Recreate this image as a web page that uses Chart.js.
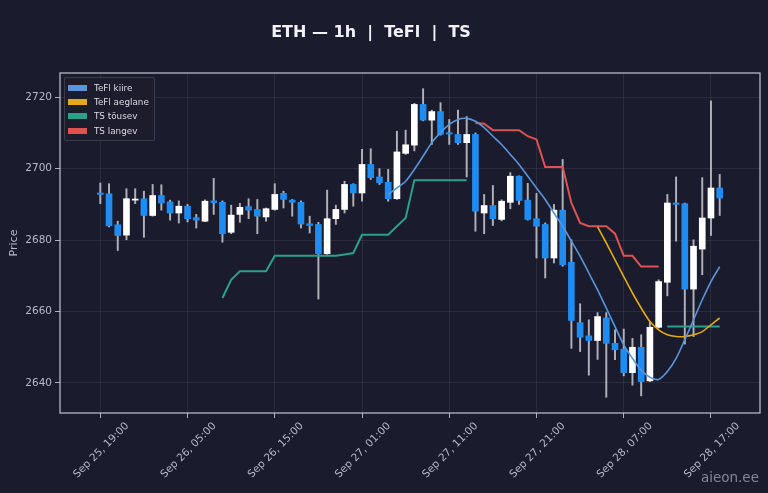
<!DOCTYPE html>
<html>
<head>
<meta charset="utf-8">
<script src="https://cdn.jsdelivr.net/npm/chart.js@4.4.1/dist/chart.umd.min.js"></script>
<style>
  html, body { margin: 0; padding: 0; background: #1b1b2e; }
  #wrap { position: relative; width: 768px; height: 493px; }
  #legend {
    position: absolute; left: 64px; top: 77px; padding: 3px 5px 2px 0;
    background: rgba(28, 28, 46, 0.92); border: 1px solid rgba(255, 255, 255, 0.14); border-radius: 2px;
    font: 8.8px 'DejaVu Sans', sans-serif; color: #dcdce4; white-space: nowrap;
  }
  #legend .row { display: flex; align-items: center; height: 14.2px; }
  #legend .sw { width: 19px; height: 6px; margin: 0 7px 0 3px; }
  #mark {
    position: absolute; right: 9px; top: 469px;
    font: 13.5px 'DejaVu Sans', sans-serif; color: rgba(170, 170, 185, 0.75);
  }
</style>
</head>
<body>
<div id="wrap">
  <canvas id="chart"></canvas>
  <div id="legend"></div>
  <div id="mark">aieon.ee</div>
</div>
<script>
// 1h candles, Sep 25 19:00 -> Sep 28 18:00 (index = hours since first candle)
const opens = [2693.2, 2693.0, 2684.3, 2681.4, 2691.2, 2691.6, 2686.9, 2692.5, 2690.7, 2687.6, 2689.5, 2686.3,
  2685.3, 2691.0, 2690.6, 2682.2, 2687.2, 2689.4, 2688.6, 2686.5, 2688.6, 2693.1, 2691.2, 2690.6,
  2684.6, 2684.4, 2676.2, 2686.0, 2688.6, 2695.6, 2693.2, 2701.2, 2697.7, 2696.2, 2691.6, 2704.3,
  2706.6, 2718.0, 2713.6, 2716.0, 2710.1, 2709.6, 2707.3, 2709.6, 2687.6, 2689.7, 2685.8, 2690.6,
  2697.9, 2691.2, 2686.0, 2684.4, 2675.0, 2688.4, 2673.8, 2656.9, 2653.2, 2651.9, 2658.2, 2651.1,
  2649.5, 2642.9, 2650.0, 2640.6, 2655.6, 2668.2, 2690.4, 2690.2, 2666.3, 2677.5, 2686.2, 2694.6];
const highs = [2696.0, 2695.8, 2685.3, 2694.4, 2694.4, 2693.7, 2695.6, 2695.5, 2691.2, 2691.0, 2690.0, 2687.2,
  2691.3, 2697.3, 2691.0, 2689.8, 2690.3, 2691.6, 2691.4, 2689.0, 2695.8, 2693.7, 2691.4, 2691.0,
  2686.7, 2685.0, 2694.0, 2689.8, 2696.5, 2695.8, 2705.4, 2705.6, 2700.0, 2699.8, 2710.5, 2710.8,
  2718.3, 2722.4, 2716.4, 2718.5, 2713.8, 2716.4, 2714.6, 2710.0, 2692.8, 2695.3, 2691.3, 2698.9,
  2698.0, 2695.9, 2693.1, 2684.8, 2690.0, 2702.6, 2680.1, 2662.2, 2657.7, 2659.7, 2659.7, 2654.9,
  2655.1, 2652.5, 2653.5, 2657.2, 2668.9, 2692.8, 2697.7, 2690.4, 2680.1, 2697.5, 2719.0, 2698.4];
const lows = [2690.2, 2683.7, 2677.1, 2680.1, 2690.2, 2680.8, 2686.7, 2688.4, 2685.6, 2684.8, 2685.1, 2683.4,
  2685.2, 2687.2, 2679.4, 2681.8, 2685.0, 2686.0, 2681.8, 2685.3, 2688.4, 2689.0, 2686.7, 2683.4,
  2682.0, 2663.5, 2676.0, 2684.4, 2687.6, 2689.5, 2690.9, 2697.0, 2695.6, 2690.9, 2691.4, 2704.0,
  2705.0, 2713.4, 2706.8, 2709.4, 2706.8, 2706.8, 2697.7, 2682.5, 2681.8, 2684.1, 2685.4, 2688.8,
  2690.0, 2685.6, 2675.0, 2669.4, 2673.6, 2672.7, 2649.7, 2648.8, 2642.2, 2646.6, 2636.0, 2646.5,
  2642.0, 2639.4, 2636.4, 2640.4, 2655.4, 2664.4, 2679.7, 2650.9, 2653.0, 2670.3, 2681.3, 2686.9];
const closes = [2692.8, 2684.0, 2681.3, 2691.6, 2691.5, 2686.9, 2692.5, 2690.4, 2687.6, 2689.5, 2686.0, 2685.6,
  2690.9, 2690.5, 2681.8, 2687.0, 2689.2, 2688.4, 2686.7, 2688.8, 2692.8, 2691.4, 2690.6, 2684.5,
  2684.1, 2676.2, 2686.0, 2688.6, 2695.6, 2693.2, 2701.2, 2697.5, 2696.1, 2691.6, 2704.7, 2706.7,
  2718.0, 2713.6, 2716.0, 2709.6, 2709.7, 2707.3, 2709.6, 2688.1, 2689.7, 2686.0, 2690.9, 2697.9,
  2691.1, 2685.8, 2683.9, 2675.0, 2688.4, 2673.1, 2657.5, 2652.8, 2651.9, 2658.6, 2651.1, 2649.3,
  2642.9, 2650.0, 2640.4, 2655.6, 2668.4, 2690.4, 2690.0, 2666.3, 2678.3, 2686.2, 2694.6, 2691.8];

const teflFast = [null, null, null, null, null, null, null, null, null, null, null, null,
  null, null, null, null, null, null, null, null, null, null, null, null,
  null, null, null, null, null, null, null, null, null, 2692.8, 2694.6, 2696.5,
  2699.8, 2703.5, 2707.3, 2710.1, 2712.4, 2713.8, 2714.1, 2713.3, 2711.5, 2709.1, 2706.8, 2704.0,
  2701.2, 2697.9, 2694.6, 2691.4, 2687.6, 2683.9, 2679.7, 2675.5, 2670.8, 2666.1, 2661.0, 2655.8,
  2650.7, 2646.9, 2643.6, 2641.6, 2641.0, 2643.2, 2646.9, 2652.1, 2657.7, 2663.3, 2668.4, 2672.6];
const teflSlow = [null, null, null, null, null, null, null, null, null, null, null, null,
  null, null, null, null, null, null, null, null, null, null, null, null,
  null, null, null, null, null, null, null, null, null, null, null, null,
  null, null, null, null, null, null, null, null, null, null, null, null,
  null, null, null, null, null, null, null, null, null, 2683.7, 2679.2, 2674.5,
  2669.8, 2665.2, 2661.0, 2657.2, 2654.9, 2653.5, 2653.0, 2653.0, 2653.5, 2654.4, 2656.3, 2658.2];
const tsUp = [null, null, null, null, null, null, null, null, null, null, null, null,
  null, null, 2663.8, 2668.9, 2671.3, 2671.3, 2671.3, 2671.3, 2675.6, 2675.6, 2675.6, 2675.6,
  2675.6, 2675.6, 2675.6, 2675.6, 2676.0, 2676.4, 2681.5, 2681.5, 2681.5, 2681.5, 2683.9, 2686.2,
  2696.8, 2696.8, 2696.8, 2696.8, 2696.8, 2696.8, 2696.8, null, null, null, null, null,
  null, null, null, null, null, null, null, null, null, null, null, null,
  null, null, null, null, null, 2655.8, 2655.8, 2655.8, 2655.8, 2655.8, 2655.8, 2655.8];
const tsDown = [null, null, null, null, null, null, null, null, null, null, null, null,
  null, null, null, null, null, null, null, null, null, null, null, null,
  null, null, null, null, null, null, null, null, null, null, null, null,
  null, null, null, null, null, null, null, 2712.8, 2712.6, 2710.8, 2710.8, 2710.8,
  2710.8, 2709.1, 2708.2, 2700.5, 2700.5, 2700.5, 2690.4, 2684.8, 2683.9, 2683.9, 2683.9, 2681.8,
  2675.6, 2675.6, 2672.6, 2672.6, 2672.6, null, null, null, null, null, null, null];

const tickIdx = [0, 10, 20, 30, 40, 50, 60, 70];
const tickLabels = ['Sep 25, 19:00', 'Sep 26, 05:00', 'Sep 26, 15:00', 'Sep 27, 01:00',
  'Sep 27, 11:00', 'Sep 27, 21:00', 'Sep 28, 07:00', 'Sep 28, 17:00'];
const priceTicks = [2640, 2660, 2680, 2700, 2720];
const titleText = 'ETH — 1h  |  TeFl  |  TS';

const BG = '#1b1b2e';
const UP = '#ffffff';
const DOWN = '#1e8cf0';
const WICK = '#b0b0b8';
const GRID = 'rgba(255,255,255,0.07)';
const TEXT = '#b8b8c6';

const series = [
  { label: 'TeFl kiire', values: teflFast, color: '#5a95dc', tension: 0.3, width: 1.6 },
  { label: 'TeFl aeglane', values: teflSlow, color: '#e6a817', tension: 0.3, width: 1.6 },
  { label: 'TS tõusev', values: tsUp, color: '#2aa189', tension: 0, width: 2 },
  { label: 'TS langev', values: tsDown, color: '#e05252', tension: 0, width: 2 }
];

const candleColor = (ctx) => closes[ctx.dataIndex] >= opens[ctx.dataIndex] ? UP : DOWN;

const datasets = [
  {
    type: 'bar', label: 'wick', order: 3, grouped: false,
    data: opens.map((_, i) => ({ x: i, y: [lows[i], highs[i]] })),
    backgroundColor: WICK, barThickness: 1.3
  },
  {
    type: 'bar', label: 'body', order: 2, grouped: false,
    data: opens.map((o, i) => ({ x: i, y: [o, closes[i]] })),
    backgroundColor: candleColor, barThickness: 6
  },
  ...series.map(s => ({
    type: 'line', label: s.label, order: 1,
    data: s.values.map((v, i) => ({ x: i, y: v })),
    borderColor: s.color, backgroundColor: s.color, borderWidth: s.width,
    pointRadius: 0, tension: s.tension, spanGaps: false
  }))
];

const bgPlugin = {
  id: 'bg',
  beforeDraw(chart) {
    const c = chart.ctx;
    c.save();
    c.fillStyle = BG;
    c.fillRect(0, 0, chart.width, chart.height);
    c.restore();
  }
};

// frame on all four sides + the figure title (centred a little left of the canvas, as in the source)
const framePlugin = {
  id: 'frame',
  afterDraw(chart) {
    const { ctx, chartArea: a } = chart;
    ctx.save();
    ctx.strokeStyle = '#c4c4d0';
    ctx.lineWidth = 1.2;
    ctx.strokeRect(a.left, a.top, a.right - a.left, a.bottom - a.top);
    ctx.fillStyle = '#f2f2f6';
    ctx.font = "bold 16px 'DejaVu Sans'";
    ctx.textAlign = 'center';
    ctx.textBaseline = 'middle';
    ctx.fillText(titleText, 371, 33);
    ctx.restore();
  }
};

new Chart(document.getElementById('chart'), {
  data: { datasets },
  plugins: [bgPlugin, framePlugin],
  options: {
    responsive: true,
    maintainAspectRatio: false,
    animation: false,
    layout: { padding: { top: 73, right: 8 } },
    plugins: {
      legend: { display: false },
      tooltip: { enabled: false },
      title: { display: false }
    },
    scales: {
      x: {
        type: 'linear', min: -4.62, max: 75.62, offset: false,
        afterBuildTicks: (scale) => { scale.ticks = tickIdx.map(v => ({ value: v })); },
        afterFit: (scale) => { scale.height = 80; },
        ticks: {
          callback: (v) => tickLabels[tickIdx.indexOf(v)],
          color: TEXT, font: { family: 'DejaVu Sans', size: 10.5 },
          minRotation: 45, maxRotation: 45, labelOffset: 27, padding: 2, autoSkip: false
        },
        grid: { offset: false, color: GRID, tickColor: '#b0b0bc', tickLength: 5 },
        border: { display: false }
      },
      y: {
        min: 2631.6, max: 2726.8,
        afterBuildTicks: (scale) => { scale.ticks = priceTicks.map(v => ({ value: v })); },
        afterFit: (scale) => { scale.width = 60; },
        ticks: { color: TEXT, font: { family: 'DejaVu Sans', size: 10.5 }, padding: 3, callback: (v) => String(v) },
        grid: { color: GRID, tickColor: '#b0b0bc', tickLength: 5 },
        border: { display: false },
        title: { display: true, text: 'Price', color: TEXT, font: { family: 'DejaVu Sans', size: 11 }, padding: { top: 8, bottom: 0 } }
      }
    }
  }
});

const legend = document.getElementById('legend');
series.forEach(s => {
  const row = document.createElement('div');
  row.className = 'row';
  row.innerHTML = `<span class="sw" style="background:${s.color}"></span><span>${s.label}</span>`;
  legend.appendChild(row);
});
</script>
</body>
</html>
